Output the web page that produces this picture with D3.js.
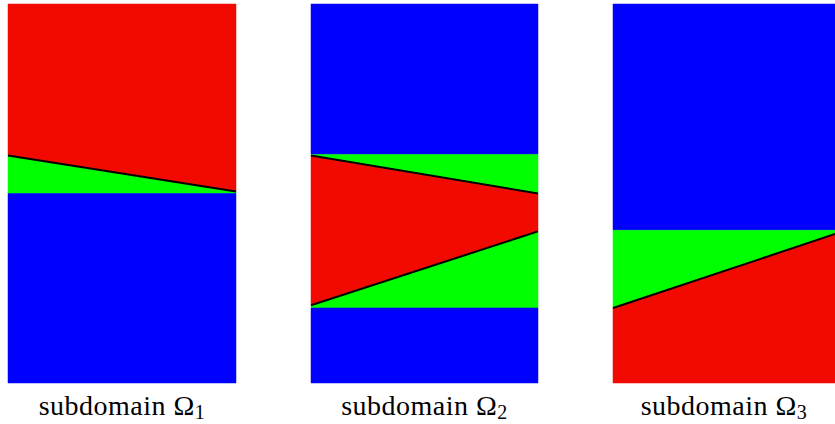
<!DOCTYPE html>
<html>
<head>
<meta charset="utf-8">
<script src="https://cdn.jsdelivr.net/npm/d3@7"></script>
<style>
  body { margin: 0; background: #fff; }
  svg { display: block; }
</style>
</head>
<body>
<div id="container"></div>
<script>
// subdomain labels (subscript index)
const subdomains = ["1", "2", "3"];

// phase regions per subdomain, in unit-square coordinates (x right, y up)
const regions1 = [
    { phase: "a", pts: [[0, 1], [1, 1], [1, 0.505], [0, 0.6]] },
    { phase: "b", pts: [[0, 0.6], [1, 0.505], [1, 0.5], [0, 0.5]] },
    { phase: "c", pts: [[0, 0.5], [1, 0.5], [1, 0], [0, 0]] }
];
const regions2 = [
    { phase: "c", pts: [[0, 1], [1, 1], [1, 0.603], [0, 0.603]] },
    { phase: "b", pts: [[0, 0.603], [1, 0.603], [1, 0.5], [0, 0.6]] },
    { phase: "a", pts: [[0, 0.6], [1, 0.5], [1, 0.4], [0, 0.205]] },
    { phase: "b", pts: [[0, 0.205], [1, 0.4], [1, 0.198], [0, 0.198]] },
    { phase: "c", pts: [[0, 0.198], [1, 0.198], [1, 0], [0, 0]] }
];
const regions3 = [
    { phase: "c", pts: [[0, 1], [1, 1], [1, 0.403], [0, 0.403]] },
    { phase: "b", pts: [[0, 0.403], [1, 0.403], [1, 0.393], [0, 0.198]] },
    { phase: "a", pts: [[0, 0.198], [1, 0.393], [1, 0], [0, 0]] }
];

// sharp interfaces drawn in black
const interfaces1 = [[[0, 0.6], [1, 0.505]]];
const interfaces2 = [[[0, 0.6], [1, 0.5]], [[0, 0.205], [1, 0.4]]];
const interfaces3 = [[[0, 0.198], [1, 0.393]]];

const allRegions = [regions1, regions2, regions3];
const allInterfaces = [interfaces1, interfaces2, interfaces3];

const width = 835;
const height = 424;
const panelX = [[8, 236], [311, 538], [613, 835]];
const panelTop = 4, panelBottom = 383;

const color = d3.scaleOrdinal()
    .domain(["a", "b", "c"])
    .range(["#f20a00", "#00ff00", "#0000ff"]);

const svg = d3.select("#container")
    .append("svg")
    .attr("width", width)
    .attr("height", height);

const y = d3.scaleLinear().domain([0, 1]).range([panelBottom, panelTop]);

allRegions.forEach((regions, i) => {
    const x = d3.scaleLinear().domain([0, 1]).range(panelX[i]);
    const g = svg.append("g");

    const line = d3.line().x(d => x(d[0])).y(d => y(d[1]));

    g.selectAll("path.region")
        .data(regions)
        .enter()
        .append("path")
        .attr("class", "region")
        .attr("d", d => line(d.pts) + "Z")
        .attr("fill", d => color(d.phase))
        .attr("stroke", d => color(d.phase))
        .attr("stroke-width", 0.5);

    g.selectAll("path.iface")
        .data(allInterfaces[i])
        .enter()
        .append("path")
        .attr("class", "iface")
        .attr("d", d => line(d))
        .attr("fill", "none")
        .attr("stroke", "#000")
        .attr("stroke-width", 2);

    const label = svg.append("text")
        .attr("x", (panelX[i][0] + panelX[i][1]) / 2)
        .attr("y", 415)
        .attr("text-anchor", "middle")
        .style("font-family", "'Liberation Serif', serif")
        .style("font-size", "28px")
        .style("letter-spacing", "0.5px")
        .attr("fill", "#000");
    label.append("tspan").text("subdomain Ω");
    label.append("tspan")
        .attr("dy", 4)
        .style("font-size", "20px")
        .text(subdomains[i]);
});
</script>
</body>
</html>
